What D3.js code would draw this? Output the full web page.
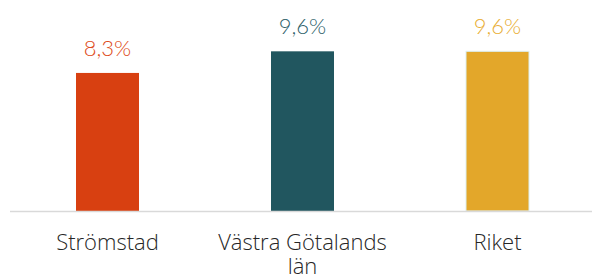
<!DOCTYPE html>
<html><head><meta charset="utf-8">
<script src="https://cdn.jsdelivr.net/npm/d3@7"></script>
<style>html,body{margin:0;padding:0;background:#fff;}svg{display:block;}</style>
</head><body>
<svg id="chart" width="592" height="280"></svg>
<script>
const categories = ["Strömstad", "Västra Götalands län", "Riket"];
const values = [8.3, 9.6, 9.6];
const valueLabels = ["8,3%", "9,6%", "9,6%"];
const barColors = ["#D84011", "#21565F", "#E3A72A"];
const labelColors = ["#DE4C20", "#2E616A", "#E9AE35"];
const barStrokes = ["none", "none", "#DCEFEF"];

const W = 592, H = 280;
const svg = d3.select("#chart");
const x = d3.scaleBand().domain(categories).range([10, 595]).paddingInner(0.677).paddingOuter(0.3385);
const y = d3.scaleLinear().domain([0, 12]).range([211, 11.4]);

svg.selectAll("rect.bar").data(categories).enter().append("rect")
  .attr("class", "bar")
  .attr("x", d => x(d))
  .attr("width", x.bandwidth())
  .attr("y", (d, i) => y(values[i]))
  .attr("height", (d, i) => y(0) - y(values[i]))
  .attr("fill", (d, i) => barColors[i])
  .attr("stroke", (d, i) => barStrokes[i])
  .attr("stroke-width", 1);

svg.append("line")
  .attr("x1", 10).attr("x2", W)
  .attr("y1", y(0) + 0.5).attr("y2", y(0) + 0.5)
  .attr("stroke", "#D9D9D9").attr("stroke-width", 1.5);

svg.selectAll("text.val").data(categories).enter().append("text")
  .attr("class", "val")
  .attr("x", d => x(d) + x.bandwidth() / 2)
  .attr("y", (d, i) => y(values[i]) - 17)
  .attr("text-anchor", "middle")
  .attr("font-family", "Lato, sans-serif")
  .attr("font-weight", 300)
  .attr("font-size", 22)
  .attr("fill", (d, i) => labelColors[i])
  .text((d, i) => valueLabels[i]);

const cat = svg.selectAll("text.cat").data(categories).enter().append("text")
  .attr("class", "cat")
  .attr("x", d => x(d) + x.bandwidth() / 2)
  .attr("y", 250)
  .attr("text-anchor", "middle")
  .attr("font-family", "'Open Sans', sans-serif")
  .attr("font-weight", 300)
  .attr("font-size", 22)
  .attr("fill", "#262626");

cat.each(function(d) {
  const t = d3.select(this);
  const words = d.split(" ");
  let line = [];
  let tspan = t.append("tspan").attr("x", t.attr("x")).attr("dy", 0);
  words.forEach(w => {
    line.push(w);
    tspan.text(line.join(" "));
    if (tspan.node().getComputedTextLength() > 195 && line.length > 1) {
      line.pop();
      tspan.text(line.join(" "));
      line = [w];
      tspan = t.append("tspan").attr("x", t.attr("x")).attr("dy", 24).text(w);
    }
  });
});
</script>
</body></html>
